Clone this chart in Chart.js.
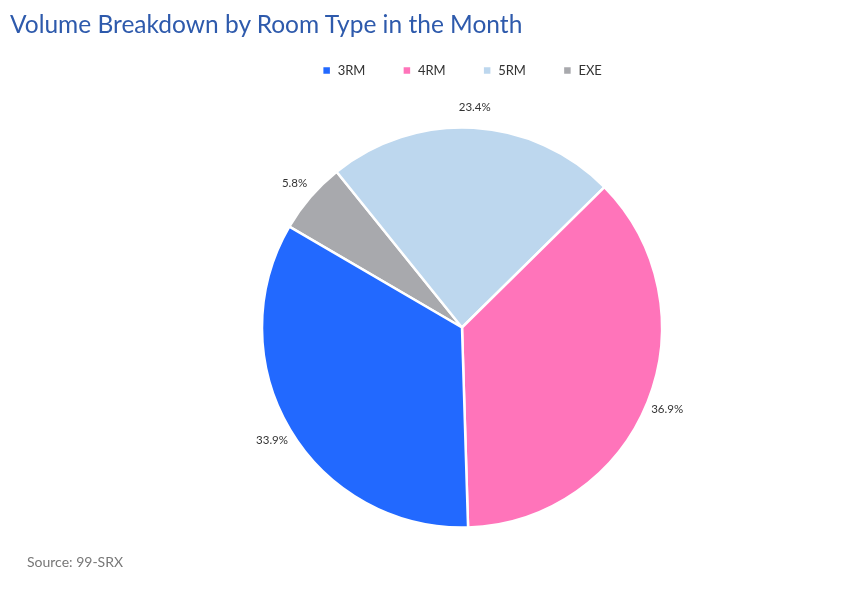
<!DOCTYPE html>
<html>
<head>
<meta charset="utf-8">
<script src="https://cdn.jsdelivr.net/npm/chart.js@4"></script>
<style>
  html, body { margin: 0; padding: 0; background: #fff; }
  body { width: 865px; height: 612px; position: relative; overflow: hidden; font-family: Lato, "Open Sans", sans-serif; }
  #title { position: absolute; left: 10px; top: 9px; font-size: 24.5px; color: #2E5AAC; white-space: nowrap; z-index: 2; }
  #source { position: absolute; left: 27px; top: 553px; font-size: 14px; color: #777; z-index: 2; }
  #wrap { position: absolute; left: 59px; top: 0; width: 806px; height: 612px; }
</style>
</head>
<body>
<div id="title">Volume Breakdown by Room Type in the Month</div>
<div id="source">Source: 99-SRX</div>
<div id="wrap"><canvas id="c"></canvas></div>
<script>
const categories = ['3RM', '4RM', '5RM', 'EXE'];
const shares = [33.9, 36.9, 23.4, 5.8];
const colors = ['#2269FF', '#FF74BA', '#BDD7EE', '#A8A9AD'];

// Slices run counter-clockwise in the reference: draw reversed, list legend reversed back.
const revLabels = categories.slice().reverse();
const revData = shares.slice().reverse();
const revColors = colors.slice().reverse();

const outerLabels = {
  id: 'outerLabels',
  afterDatasetsDraw(chart) {
    const ctx = chart.ctx;
    const meta = chart.getDatasetMeta(0);
    const data = chart.data.datasets[0].data;
    ctx.save();
    ctx.font = '11.5px Lato, "Open Sans", sans-serif';
    ctx.fillStyle = '#333';
    ctx.textAlign = 'center';
    ctx.textBaseline = 'middle';
    meta.data.forEach((arc, i) => {
      const p = arc.getProps(['x', 'y', 'startAngle', 'endAngle', 'outerRadius'], true);
      const mid = (p.startAngle + p.endAngle) / 2;
      const r = p.outerRadius + 21;
      ctx.fillText(data[i].toFixed(1) + '%', p.x + Math.cos(mid) * r, p.y + Math.sin(mid) * r);
    });
    ctx.restore();
  }
};

new Chart(document.getElementById('c'), {
  type: 'pie',
  data: {
    labels: revLabels,
    datasets: [{
      data: revData,
      backgroundColor: revColors,
      borderColor: '#ffffff',
      borderWidth: 2.5,
      radius: 200
    }]
  },
  options: {
    responsive: true,
    maintainAspectRatio: false,
    animation: false,
    rotation: 300.3,
    layout: { padding: { top: 27, bottom: 44 } },
    plugins: {
      title: { display: false },
      tooltip: { enabled: false },
      legend: {
        position: 'top',
        reverse: true,
        labels: {
          boxWidth: 9,
          boxHeight: 9,
          padding: 37,
          color: '#333',
          font: { size: 13, family: 'Lato, "Open Sans", sans-serif' }
        }
      }
    }
  },
  plugins: [outerLabels]
});
</script>
</body>
</html>
